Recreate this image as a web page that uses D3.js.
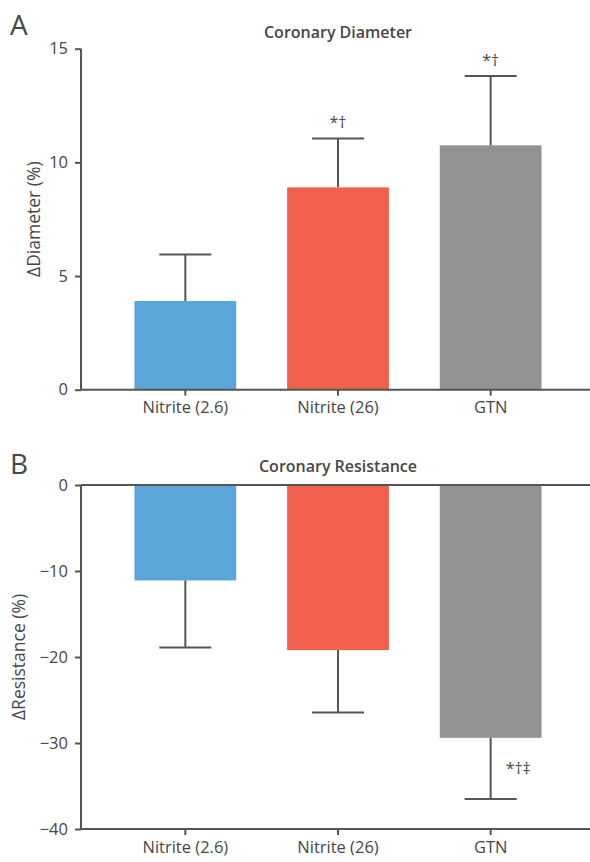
<!DOCTYPE html>
<html>
<head>
<meta charset="utf-8">
<script src="https://cdn.jsdelivr.net/npm/d3@7"></script>
<style>
  body { margin: 0; background: #fff; }
  svg text { font-family: "Open Sans", "Noto Sans", sans-serif; fill: #474747; }
</style>
</head>
<body>
<div id="chart"></div>
<script>
var categories = ["Nitrite (2.6)", "Nitrite (26)", "GTN"];
var barColors = ["#5aa5d9", "#f0604a", "#939396"];

// panel A: change in coronary diameter (%)
var diameterMean = [3.9, 8.9, 10.75];
var diameterSD = [2.05, 2.15, 3.05];
var diameterSig = ["", "*\u2020", "*\u2020"];
var diameterTicks = [0, 5, 10, 15];

// panel B: change in coronary resistance (%)
var resistanceMean = [-11.1, -19.2, -29.4];
var resistanceSD = [7.8, 7.25, 7.1];
var resistanceSig = ["", "", "*\u2020\u2021"];
var resistanceTicks = [-40, -30, -20, -10, 0];

var W = 590, H = 862;
var axisColor = "#555";
var fs = 16.5;

var svg = d3.select("#chart").append("svg")
  .attr("width", W).attr("height", H);

var x = d3.scaleBand().domain(categories)
  .range([81, 595]).paddingInner(1 / 3).paddingOuter(0.35);

function panel(opt) {
  var y = d3.scaleLinear().domain(opt.domain).range(opt.range);
  var g = svg.append("g");

  // panel letter + title
  g.append("text").attr("x", 10).attr("y", opt.letterY)
    .attr("font-size", 28).text(opt.letter);
  g.append("text").attr("x", 338).attr("y", opt.titleY)
    .attr("text-anchor", "middle").attr("font-size", 16)
    .attr("font-weight", 600).text(opt.title);

  // bars
  g.selectAll(".bar").data(opt.mean).enter().append("rect")
    .attr("x", function(d, i) { return x(categories[i]); })
    .attr("width", x.bandwidth())
    .attr("y", function(d) { return y(Math.max(0, d)); })
    .attr("height", function(d) { return Math.abs(y(d) - y(0)); })
    .attr("fill", function(d, i) { return barColors[i]; });

  // error bars (one-sided, away from zero)
  var eg = g.selectAll(".err").data(opt.mean).enter().append("g")
    .attr("stroke", axisColor).attr("stroke-width", 2);
  eg.append("line")
    .attr("x1", function(d, i) { return x(categories[i]) + x.bandwidth() / 2; })
    .attr("x2", function(d, i) { return x(categories[i]) + x.bandwidth() / 2; })
    .attr("y1", function(d) { return y(d); })
    .attr("y2", function(d, i) { return y(d + Math.sign(d) * opt.sd[i]); });
  eg.append("line")
    .attr("x1", function(d, i) { return x(categories[i]) + x.bandwidth() / 2 - 26; })
    .attr("x2", function(d, i) { return x(categories[i]) + x.bandwidth() / 2 + 26; })
    .attr("y1", function(d, i) { return y(d + Math.sign(d) * opt.sd[i]); })
    .attr("y2", function(d, i) { return y(d + Math.sign(d) * opt.sd[i]); });

  // significance marks
  g.selectAll(".sig").data(opt.sig).enter().append("text")
    .attr("font-size", 16)
    .each(function(s, i) {
      var d = opt.mean[i], cx = x(categories[i]) + x.bandwidth() / 2;
      var end = d + Math.sign(d) * opt.sd[i];
      var t = d3.select(this);
      if (d > 0) {
        t.attr("x", cx).attr("y", y(end) - 10).attr("text-anchor", "middle");
      } else {
        t.attr("x", cx + 15).attr("y", (y(d) + y(end)) / 2 + 6);
      }
    })
    .text(function(s) { return s; });

  // y axis
  var ya = g.append("g").attr("transform", "translate(81,0)")
    .call(d3.axisLeft(y).tickValues(opt.ticks).tickSize(6).tickPadding(7));
  ya.selectAll("path, line").attr("stroke", axisColor).attr("stroke-width", 2);
  ya.select(".domain").attr("d", "M0," + y.range()[0] + "V" + y.range()[1]);
  ya.selectAll("text").attr("font-size", fs).attr("fill", "#474747")
    .style("font-family", "'Open Sans', sans-serif");

  g.append("text")
    .attr("transform", "translate(" + opt.labelX + "," + ((y.range()[0] + y.range()[1]) / 2) + ") rotate(-90)")
    .attr("text-anchor", "middle").attr("font-size", 17.5)
    .text(opt.ylabel);

  // x axis at bottom of the value range
  var xa = g.append("g").attr("transform", "translate(0," + y(opt.domain[0]) + ")")
    .call(d3.axisBottom(x).tickSize(6).tickPadding(6));
  xa.selectAll("path, line").attr("stroke", axisColor).attr("stroke-width", 2);
  xa.select(".domain").attr("d", "M81,0H595");
  xa.selectAll("text").attr("font-size", fs).attr("fill", "#474747")
    .style("font-family", "'Open Sans', sans-serif");

  // zero line across the top when values are negative
  if (opt.domain[1] === 0) {
    g.append("line").attr("x1", 81).attr("x2", W)
      .attr("y1", y(0)).attr("y2", y(0))
      .attr("stroke", axisColor).attr("stroke-width", 2);
  }
}

panel({
  letter: "A", letterY: 35, title: "Coronary Diameter", titleY: 38,
  domain: [0, 15], range: [389.7, 48.7], ticks: diameterTicks,
  mean: diameterMean, sd: diameterSD, sig: diameterSig,
  ylabel: "\u0394Diameter (%)", labelX: 40
});

panel({
  letter: "B", letterY: 474, title: "Coronary Resistance", titleY: 472,
  domain: [-40, 0], range: [829, 485], ticks: resistanceTicks,
  mean: resistanceMean, sd: resistanceSD, sig: resistanceSig,
  ylabel: "\u0394Resistance (%)", labelX: 25
});
</script>
</body>
</html>
